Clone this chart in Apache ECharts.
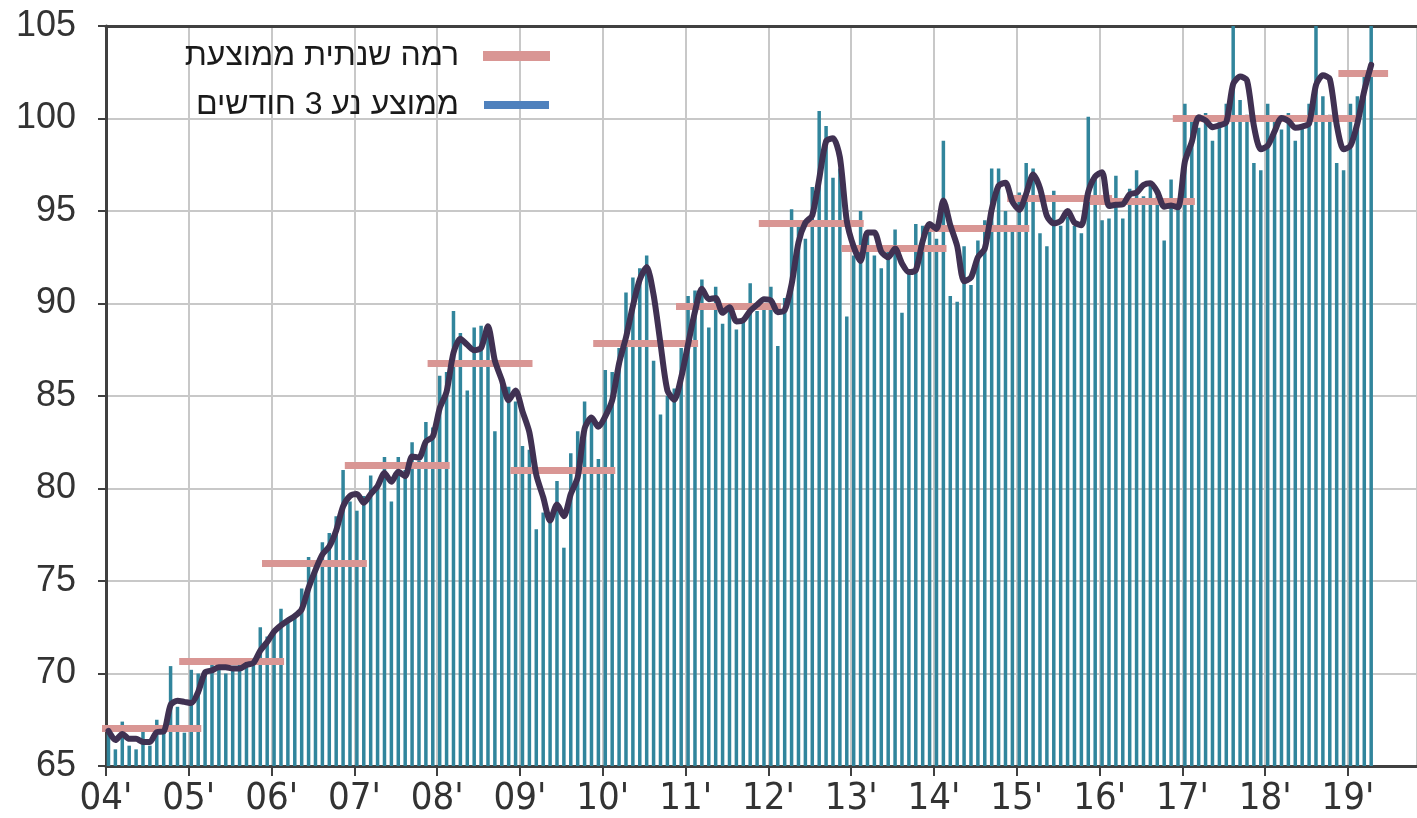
<!DOCTYPE html>
<html><head><meta charset="utf-8">
<script src="https://cdn.jsdelivr.net/npm/echarts@6/dist/echarts.min.js"></script>
<style>html,body{margin:0;padding:0;background:#fff}#c{width:1417px;height:818px}</style>
</head><body><div id="c"></div>
<script>
// ---- data ----
const yearLabels = ["04'","05'","06'","07'","08'","09'","10'","11'","12'","13'","14'","15'","16'","17'","18'","19'"];
const y2004 = [66.9, 65.9, 67.4, 66.1, 65.9, 66.9, 66.1, 67.5, 67.0, 70.4, 68.2, 66.8];
const y2005 = [70.2, 70.0, 70.0, 70.5, 70.5, 70.0, 70.3, 70.5, 70.6, 70.6, 72.5, 72.0];
const y2006 = [72.3, 73.5, 72.8, 73.0, 74.6, 76.3, 75.9, 77.1, 77.6, 78.5, 81.0, 79.3];
const y2007 = [78.8, 79.6, 80.7, 80.1, 81.7, 79.3, 81.7, 81.0, 82.5, 81.5, 83.6, 83.3];
const y2008 = [86.1, 86.3, 89.6, 88.4, 85.3, 88.7, 88.8, 88.8, 83.1, 85.7, 85.5, 84.7];
const y2009 = [82.3, 82.1, 77.8, 78.7, 78.3, 80.4, 76.8, 81.9, 83.1, 84.7, 83.7, 81.6];
const y2010 = [86.4, 86.3, 87.6, 90.6, 91.4, 91.9, 92.6, 86.9, 84.0, 85.0, 85.4, 87.6];
const y2011 = [90.4, 90.7, 91.3, 88.7, 90.9, 88.9, 89.6, 88.6, 89.1, 91.1, 89.6, 90.0];
const y2012 = [90.9, 87.7, 90.3, 95.1, 94.5, 93.5, 96.3, 100.4, 99.6, 96.8, 97.3, 89.3];
const y2013 = [92.6, 95.0, 93.9, 92.6, 91.9, 93.0, 94.0, 89.5, 91.6, 94.3, 94.2, 94.4];
const y2014 = [93.5, 98.8, 90.4, 90.1, 93.1, 91.0, 93.4, 94.5, 97.3, 97.3, 95.0, 94.2];
const y2015 = [96.0, 97.6, 97.3, 93.8, 93.1, 96.1, 94.2, 94.7, 94.2, 93.8, 100.1, 96.7];
const y2016 = [94.5, 94.6, 96.9, 94.6, 96.2, 97.2, 95.8, 96.5, 95.8, 93.4, 96.7, 95.5];
const y2017 = [100.8, 99.9, 99.5, 100.3, 98.8, 99.8, 100.8, 105.0, 101.0, 100.2, 97.6, 97.2];
const y2018 = [100.8, 99.9, 99.4, 100.3, 98.8, 99.6, 100.8, 105.0, 101.2, 100.2, 97.6, 97.2];
const y2019 = [100.8, 101.2, 102.5, 105.0];
const annualLevel = [67.05, 70.66, 75.98, 81.25, 86.78, 81.01, 87.83, 89.86, 94.34, 93.0, 94.05, 95.68, 95.55, 100.0, 100.0, 102.43];
const nameAnnual = 'רמה שנתית ממוצעת';
const nameMA = 'ממוצע נע 3 חודשים';

// ---- build ----
const years = [y2004,y2005,y2006,y2007,y2008,y2009,y2010,y2011,y2012,y2013,y2014,y2015,y2016,y2017,y2018,y2019];
const monthly = [].concat(...years);
const SHIFT = 0.36; // bars sit slightly after the month tick
const barData = monthly.map((v, i) => [i + SHIFT, v]);
const maData = monthly.map((v, i) => {
  const w = monthly.slice(Math.max(0, i - 2), i + 1);
  return [i + SHIFT, w.reduce((a, b) => a + b, 0) / w.length];
});
let pos = 0;
const annualSegs = years.map((arr, k) => {
  const s = pos; pos += arr.length;
  return { coords: [[s + SHIFT - 1.75, annualLevel[k]], [s + arr.length - 1 + SHIFT + 2.45, annualLevel[k]]] };
});

const FONT = "'Liberation Sans', Arial, Helvetica, sans-serif";
const NARROW = "'Liberation Sans Narrow', 'Arial Narrow', 'DejaVu Sans Condensed', 'Liberation Sans', Arial, sans-serif";
const chart = echarts.init(document.getElementById('c'), null, { renderer: 'canvas' });
chart.setOption({
  animation: false,
  backgroundColor: '#ffffff',
  grid: { left: 106, right: 0, top: 26, bottom: 51 },
  legend: {
    orient: 'vertical', right: 862, top: 35, align: 'right', icon: 'rect',
    itemWidth: 65, itemHeight: 8, itemGap: 17, selectedMode: false,
    textStyle: { fontSize: 32, color: '#1a1a1a', fontFamily: FONT, padding: [0, 20, 0, 0] },
    data: [
      { name: nameAnnual, itemStyle: { color: '#D99694' } },
      { name: nameMA, itemStyle: { color: '#4F81BD' } }
    ]
  },
  xAxis: [{
    type: 'value', min: 0, max: 190, interval: 12,
    axisLine: { show: true, onZero: false, lineStyle: { color: '#404040', width: 3 } },
    axisTick: { show: true, length: 10, lineStyle: { color: '#404040', width: 2 } },
    splitLine: { show: true, lineStyle: { color: '#c8c8c8', width: 2 } },
    axisLabel: {
      fontSize: 38, color: '#333', fontFamily: NARROW, margin: 14, showMaxLabel: false,
      formatter: v => (v % 12 === 0 && v / 12 < yearLabels.length) ? yearLabels[v / 12] : ''
    }
  }, {
    type: 'value', position: 'top', min: 0, max: 190,
    axisLine: { show: true, onZero: false, lineStyle: { color: '#404040', width: 3 } },
    axisTick: { show: false }, axisLabel: { show: false }, splitLine: { show: false }
  }],
  yAxis: {
    type: 'value', min: 65, max: 105, interval: 5,
    axisLine: { show: true, lineStyle: { color: '#404040', width: 3 } },
    axisTick: { show: true, length: 8, lineStyle: { color: '#404040', width: 2 } },
    splitLine: { show: true, lineStyle: { color: '#c8c8c8', width: 2 } },
    axisLabel: { fontSize: 36, color: '#333', fontFamily: FONT, margin: 30 }
  },
  series: [
    {
      type: 'bar', name: 'bars', data: barData, barWidth: 3.5,
      itemStyle: { color: '#31859C' }, z: 2, clip: true
    },
    {
      type: 'lines', name: nameAnnual, coordinateSystem: 'cartesian2d', data: annualSegs,
      lineStyle: { color: '#D99694', width: 7, opacity: 1, cap: 'butt' },
      itemStyle: { color: '#D99694' }, z: 3
    },
    {
      type: 'line', name: nameMA, data: maData, showSymbol: false, smooth: 0.25,
      lineStyle: { color: '#403152', width: 6, cap: 'round', join: 'round' },
      itemStyle: { color: '#4F81BD' }, z: 4
    }
  ]
});
</script>
</body></html>
